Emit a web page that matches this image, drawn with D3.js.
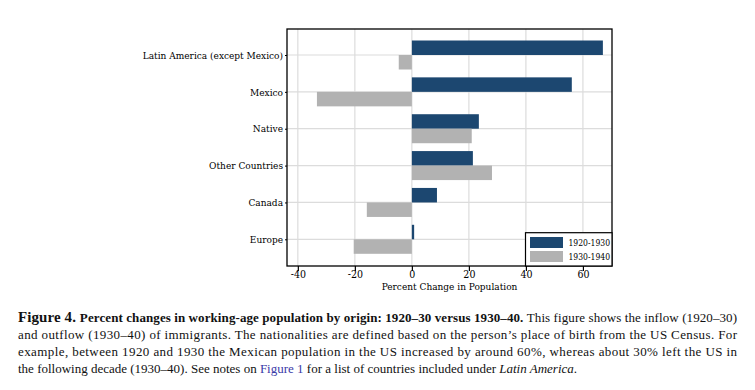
<!DOCTYPE html>
<html>
<head>
<meta charset="utf-8">
<script src="https://cdn.jsdelivr.net/npm/d3@7"></script>
<style>
	body { margin: 0; background: #fff; }
	#chart svg { display: block; }
</style>
</head>
<body>
<div id="chart"></div>
<script>
const categories = [
	'Latin America (except Mexico)',
	'Mexico',
	'Native',
	'Other Countries',
	'Canada',
	'Europe'
];
const change1920to1930 = [67.0, 56.1, 23.5, 21.4, 8.8, 0.8];
const change1930to1940 = [-4.6, -33.3, 21.0, 28.1, -15.8, -20.4];
const xTicks = [-40, -20, 0, 20, 40, 60];
const seriesNames = ['1920-1930', '1930-1940'];
const seriesColors = ['#1c4770', '#b2b2b2'];

const serif = '"Liberation Serif", serif';
const chartFont = '"DejaVu Serif Condensed", "DejaVu Serif", serif';

let dimensions = {
	width: 755,
	height: 390,
	plot: { left: 287, right: 612, top: 29, bottom: 266 }
};

const svg = d3.select('#chart')
	.append('svg')
		.attr('width', dimensions.width)
		.attr('height', dimensions.height)
		.attr('font-family', serif);

// x Scale
const xScale = d3.scaleLinear()
	.domain([-43.8, 70.2])
	.range([dimensions.plot.left, dimensions.plot.right]);

// y Scale - one row per origin
const yScale = d3.scalePoint()
	.domain(categories)
	.range([55, 239.3]);

const barHeight = 14.5;
const gridColor = '#dcdcdc';

// gridlines
svg.append('g')
	.selectAll('line')
	.data(xTicks)
	.join('line')
		.attr('x1', d => xScale(d))
		.attr('x2', d => xScale(d))
		.attr('y1', dimensions.plot.top)
		.attr('y2', dimensions.plot.bottom)
		.attr('stroke', gridColor)
		.attr('stroke-width', 1.2);

svg.append('g')
	.selectAll('line')
	.data(categories)
	.join('line')
		.attr('x1', dimensions.plot.left)
		.attr('x2', dimensions.plot.right)
		.attr('y1', d => yScale(d))
		.attr('y2', d => yScale(d))
		.attr('stroke', gridColor)
		.attr('stroke-width', 1.2);

// bars
const rows = categories.map((c, i) => ({
	name: c,
	first: change1920to1930[i],
	second: change1930to1940[i]
}));

svg.append('g')
	.selectAll('rect')
	.data(rows)
	.join('rect')
		.attr('x', d => xScale(Math.min(0, d.first)))
		.attr('width', d => Math.abs(xScale(d.first) - xScale(0)))
		.attr('y', d => yScale(d.name) - barHeight)
		.attr('height', barHeight)
		.attr('fill', seriesColors[0]);

svg.append('g')
	.selectAll('rect')
	.data(rows)
	.join('rect')
		.attr('x', d => xScale(Math.min(0, d.second)))
		.attr('width', d => Math.abs(xScale(d.second) - xScale(0)))
		.attr('y', d => yScale(d.name))
		.attr('height', barHeight)
		.attr('fill', seriesColors[1]);

// plot border
svg.append('rect')
	.attr('x', dimensions.plot.left)
	.attr('y', dimensions.plot.top)
	.attr('width', dimensions.plot.right - dimensions.plot.left)
	.attr('height', dimensions.plot.bottom - dimensions.plot.top)
	.attr('fill', 'none')
	.attr('stroke', '#000')
	.attr('stroke-width', 1.3);

// Draw Axes
const xAxis = svg.append('g')
	.attr('transform', `translate(0, ${dimensions.plot.bottom})`)
	.call(d3.axisBottom(xScale).tickValues(xTicks).tickSize(5).tickFormat(d => String(d)))
	.attr('font-family', chartFont)
	.attr('font-size', 10.5);
xAxis.select('.domain').remove();
xAxis.selectAll('.tick line').attr('stroke', '#000').attr('stroke-width', 1.2);
xAxis.selectAll('.tick text')
	.attr('y', 12)
	.attr('dy', 0)
	.attr('fill', '#000');

const yAxis = svg.append('g')
	.attr('transform', `translate(${dimensions.plot.left}, 0)`)
	.call(d3.axisLeft(yScale).tickSize(2).tickPadding(2))
	.attr('font-family', chartFont)
	.attr('font-size', 10);
yAxis.select('.domain').remove();
yAxis.selectAll('.tick line').attr('stroke', '#000');
yAxis.selectAll('.tick text')
	.attr('fill', '#000');

// X Axis Label
svg.append('text')
	.attr('x', (dimensions.plot.left + dimensions.plot.right) / 2)
	.attr('y', 290)
	.attr('text-anchor', 'middle')
	.attr('font-family', chartFont)
	.attr('font-size', 10)
	.text('Percent Change in Population');

// legend
const legend = svg.append('g')
	.attr('font-family', chartFont);
legend.append('rect')
	.attr('x', 525.5)
	.attr('y', 232.7)
	.attr('width', dimensions.plot.right - 525.5)
	.attr('height', dimensions.plot.bottom - 232.7)
	.attr('fill', '#fff')
	.attr('stroke', '#000')
	.attr('stroke-width', 1.2);
seriesNames.forEach((name, i) => {
	legend.append('rect')
		.attr('x', 530)
		.attr('y', 237 + i * 14)
		.attr('width', 33)
		.attr('height', 11)
		.attr('fill', seriesColors[i]);
	legend.append('text')
		.attr('x', 568.5)
		.attr('y', 245.5 + i * 14)
		.attr('font-size', 8.5)
		.text(name);
});

// caption
const caption = svg.append('g')
	.attr('font-size', 13)
	.attr('fill', '#111');

const line1 = caption.append('text')
	.attr('x', 18).attr('y', 321.5)
	.attr('textLength', 719).attr('lengthAdjust', 'spacing');
line1.append('tspan').attr('font-weight', 'bold').attr('font-size', 15).text('Figure 4. ');
line1.append('tspan').attr('font-weight', 'bold').text('Percent changes in working-age population by origin: 1920–30 versus 1930–40. ');
line1.append('tspan').text('This figure shows the inflow (1920–30)');

caption.append('text')
	.attr('x', 18).attr('y', 338.5)
	.attr('textLength', 719).attr('lengthAdjust', 'spacing')
	.text('and outflow (1930–40) of immigrants. The nationalities are defined based on the person’s place of birth from the US Census. For');

caption.append('text')
	.attr('x', 18).attr('y', 355.5)
	.attr('textLength', 719).attr('lengthAdjust', 'spacing')
	.text('example, between 1920 and 1930 the Mexican population in the US increased by around 60%, whereas about 30% left the US in');

const line4 = caption.append('text')
	.attr('x', 18).attr('y', 372.5);
line4.append('tspan').text('the following decade (1930–40). See notes on ');
line4.append('tspan').attr('fill', '#3a3aa8').text('Figure 1');
line4.append('tspan').text(' for a list of countries included under ');
line4.append('tspan').attr('font-style', 'italic').text('Latin America');
line4.append('tspan').text('.');
</script>
</body>
</html>
